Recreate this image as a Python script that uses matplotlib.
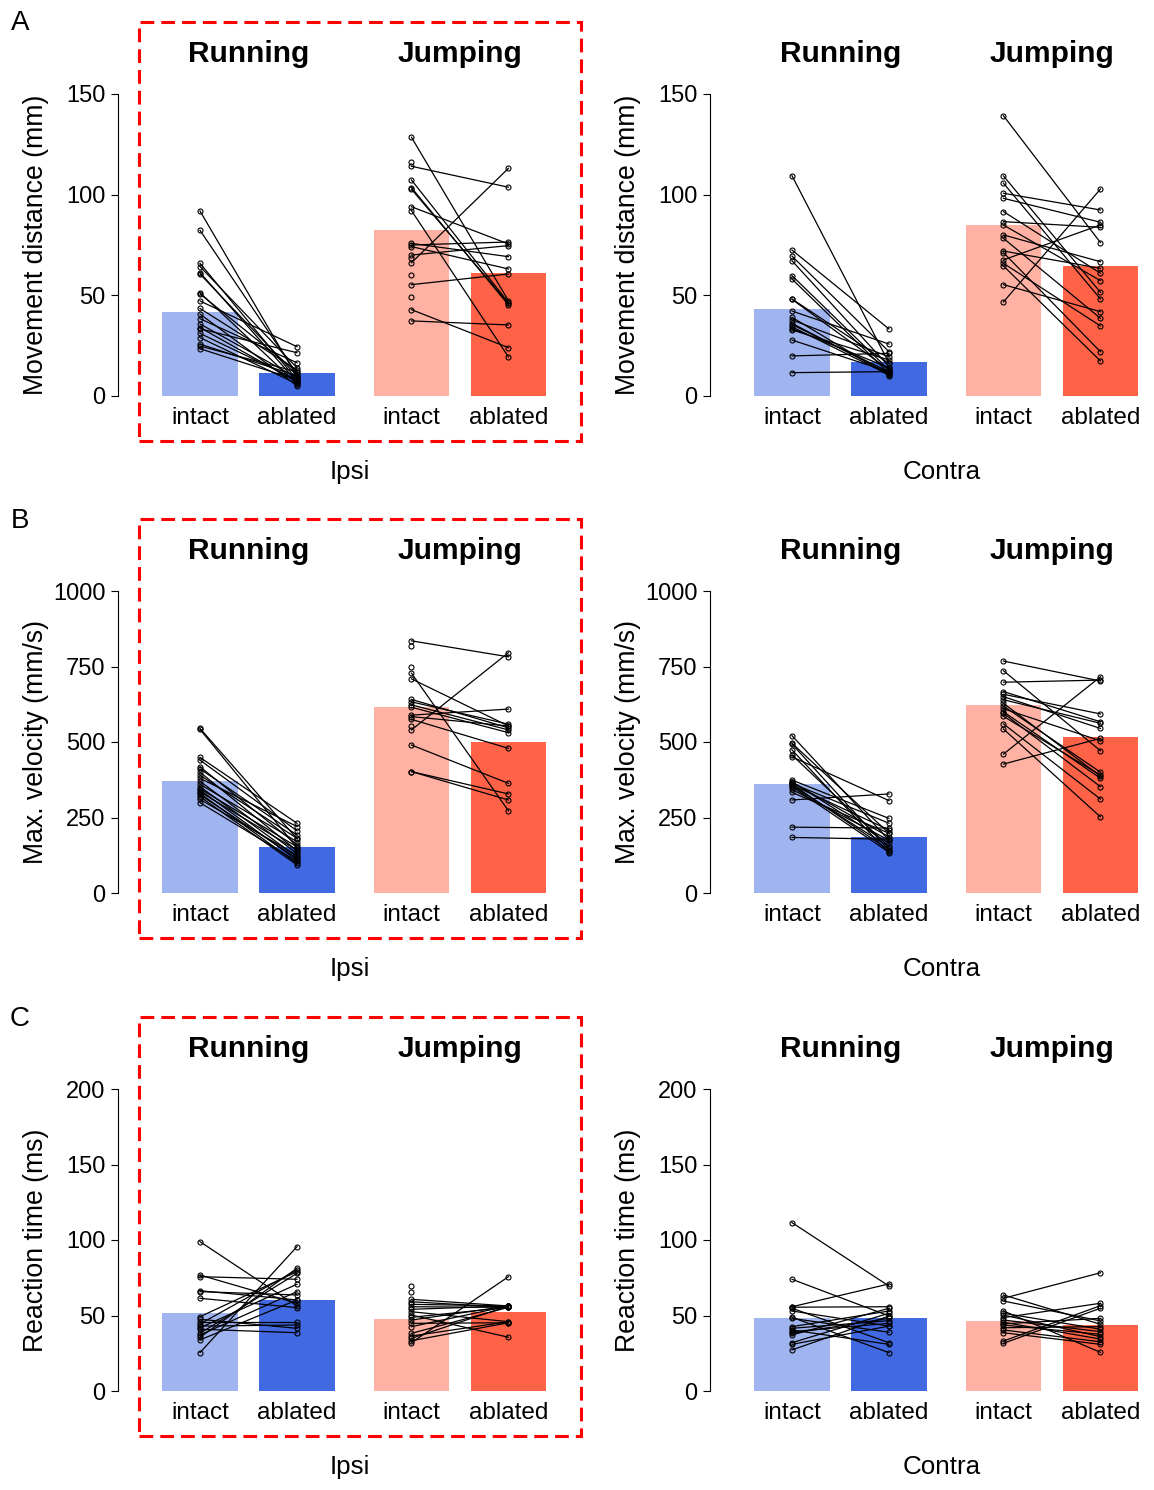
import numpy as np
import matplotlib.pyplot as plt
from matplotlib.patches import Rectangle

plt.rcParams['font.family'] = ['Liberation Sans', 'DejaVu Sans']

nan = np.nan
W, H = 1154, 1490

tick_names = ['intact', 'ablated', 'intact', 'ablated']
bar_colors = ['#a0b4f0', '#4169e1', '#ffb1a3', '#ff6347']

# ---- A: movement distance (mm) ----
a_bars_ipsi = [41.7, 11.4, 82.5, 61.1]
a_bars_contra = [43.2, 16.9, 84.9, 64.6]
a_ipsi_run_pre = [91.9, 82.3, 65.9, 64.3, 61.3, 60.6, 51.3, 50.7, 47.2, 43.5,
                  40.7, 38.4, 35.8, 34.0, 33.4, 31.1, 29.0, 25.8, 24.8, 23.5]
a_ipsi_run_post = [9.6, 11.0, 8.0, 14.0, 7.0, 10.0, 6.0, 12.0, 24.5, 13.0,
                   5.1, 16.5, 9.0, 7.0, 21.5, 8.0, 6.0, 10.0, 12.0, 8.0]
a_ipsi_jump_pre = [128.5, 116.2, 114.1, 107.3, 103.5, 102.7, 94.0, 92.1, 75.8, 75.0,
                   74.2, 70.0, 68.4, 66.2, 60.0, 55.3, 49.2, 42.9, 37.3]
a_ipsi_jump_post = [47.3, nan, 103.7, 46.4, 45.2, 46.0, 75.5, 19.4, 69.2, 76.5,
                    63.1, 74.7, nan, 113.1, nan, 60.6, nan, 24.0, 35.3]
a_contra_run_pre = [109.4, 72.5, 69.5, 67.2, 59.8, 58.1, 48.2, 48.0, 42.2, 39.1,
                    37.8, 36.1, 35.5, 34.4, 33.5, 32.8, 27.8, 19.9, 11.6]
a_contra_run_post = [16.4, 33.3, 22.0, 14.6, 12.9, 11.3, 16.2, 13.0, 25.8, 10.1,
                     19.5, 11.0, 12.0, 10.5, 14.0, 17.9, 12.0, 21.2, 12.1]
a_contra_jump_pre = [139.2, 109.3, 105.7, 100.7, 98.2, 91.6, 86.6, 84.9, 80.0, 78.3,
                     72.0, 71.2, 67.6, 65.9, 64.6, 55.3, 46.7]
a_contra_jump_post = [76.2, 51.5, 48.2, 92.4, 86.3, 61.0, 83.8, 57.3, 66.7, 38.6,
                      63.4, 22.0, 85.0, 34.8, 17.4, 41.9, 102.8]

# ---- B: max. velocity (mm/s) ----
b_bars_ipsi = [371, 152, 615, 500]
b_bars_contra = [361, 185, 623, 516]
b_ipsi_run_pre = [545, 542, 449, 440, 418, 411, 400, 390, 380, 370,
                  360, 352, 345, 341, 335, 330, 325, 319, 310, 299]
b_ipsi_run_post = [180, 150, 231, 206, 160, 192, 140, 181, 220, 131,
                   170, 120, 153, 109, 142, 98, 115, 93, 125, 105]
b_ipsi_jump_pre = [835, 818, 749, 728, 709, 641, 633, 623, 615, 589,
                   584, 575, 553, 540, 490, 402, 402]
b_ipsi_jump_post = [782, nan, nan, 272, 553, 547, 559, 540, 531, 609,
                    553, 479, nan, 796, 363, 328, 308]
b_contra_run_pre = [521, 496, 493, 474, 457, 451, 374, 369, 366, 363,
                    360, 358, 355, 352, 343, 333, 308, 218, 184]
b_contra_run_post = [175, 198, 142, 131, 153, 306, 247, 164, 186, 231,
                     142, 209, 153, 135, 175, 198, 328, 215, 178]
b_contra_jump_pre = [768, 736, 698, 667, 658, 650, 640, 628, 619, 610,
                     600, 595, 585, 560, 543, 460, 427]
b_contra_jump_post = [702, 471, 705, 567, 593, 545, 562, 387, 400, 504,
                      380, 352, 390, 311, 252, 716, 512]

# ---- C: reaction time (ms) ----
c_bars_ipsi = [51.9, 60.3, 47.7, 52.3]
c_bars_contra = [48.6, 48.6, 46.4, 43.7]
c_ipsi_run_pre = [98.9, 76.8, 75.7, 66.4, 65.8, 61.4, 49.2, 47.5, 45.9, 44.4,
                  43.0, 41.9, 40.9, 38.2, 37.1, 35.6, 33.8, 25.4]
c_ipsi_run_post = [56.3, 58.1, 74.0, 60.3, 63.6, 55.2, 79.0, 41.5, 45.9, 80.1,
                   43.7, 70.7, 38.6, 77.9, 65.8, 81.3, 60.3, 95.6]
c_ipsi_jump_pre = [69.7, 65.8, 60.7, 59.1, 57.4, 55.8, 54.1, 52.5, 50.3, 48.8,
                   47.0, 44.8, 42.6, 38.2, 36.4, 34.9, 33.3, 32.0]
c_ipsi_jump_post = [nan, nan, 56.3, 55.4, 56.3, 55.4, 56.3, 45.9, 35.6, 55.4,
                    56.3, 45.2, 56.3, 55.4, 45.9, 56.3, 45.2, 75.7]
c_contra_run_pre = [111.5, 74.0, 55.8, 55.5, 54.8, 53.0, 48.8, 48.1, 42.6, 41.5,
                    40.4, 39.3, 38.2, 37.1, 32.0, 30.9, 27.2]
c_contra_run_post = [69.5, 49.7, 70.9, 55.8, 32.0, 43.0, 25.4, 38.9, 53.0, 46.6,
                     30.9, 44.8, 48.1, 54.8, 51.5, 43.0, 49.7]
c_contra_jump_pre = [63.6, 61.4, 59.6, 53.0, 51.5, 50.3, 48.6, 47.0, 45.5, 44.5,
                     43.7, 41.9, 40.4, 38.6, 33.1, 31.6]
c_contra_jump_post = [44.2, 78.3, 46.4, 25.6, 40.9, 36.0, 58.1, 39.3, 34.4, 48.1,
                      37.5, 42.6, 32.6, 30.9, 56.5, 54.8]

xpos = np.array([0, 1, 2.18, 3.18])


def paired(ax, x0, x1, pre, post):
    pre = np.asarray(pre, float)
    post = np.asarray(post, float)
    for a, b in zip(pre, post):
        if not (np.isnan(a) or np.isnan(b)):
            ax.plot([x0, x1], [a, b], color='k', lw=0.9, zorder=3)
    ok = ~np.isnan(pre)
    ax.plot(np.full(ok.sum(), x0), pre[ok], 'o', ms=3.6, mfc='none', mec='k',
            mew=0.8, zorder=4)
    ok = ~np.isnan(post)
    ax.plot(np.full(ok.sum(), x1), post[ok], 'o', ms=3.6, mfc='none', mec='k',
            mew=0.8, zorder=4)


def draw_panel(ax, bars, run_pre, run_post, jump_pre, jump_post,
               ymax, yticks, ylabel, side):
    ax.bar(xpos, bars, width=0.78, color=bar_colors, zorder=1)
    paired(ax, xpos[0], xpos[1], run_pre, run_post)
    paired(ax, xpos[2], xpos[3], jump_pre, jump_post)
    ax.set_xlim(-0.845, 3.938)
    ax.set_ylim(0, ymax)
    ax.set_yticks(yticks)
    ax.set_xticks(xpos)
    ax.set_xticklabels(tick_names)
    for s in ['top', 'right', 'bottom']:
        ax.spines[s].set_visible(False)
    ax.spines['left'].set_linewidth(0.8)
    ax.tick_params(axis='y', labelsize=17, length=5, width=0.8, pad=4)
    ax.tick_params(axis='x', labelsize=17.5, length=0, pad=8)
    ax.text(-0.177, 0.5, ylabel, transform=ax.transAxes, rotation=90,
            ha='center', va='center', fontsize=19.2)
    ax.text(0.5, -0.252, side, transform=ax.transAxes,
            ha='center', va='center', fontsize=18.7)
    tr = ax.get_xaxis_transform()
    ax.text((xpos[0] + xpos[1]) / 2, 1.131, 'Running', transform=tr,
            ha='center', va='center', fontsize=21.5, fontweight='bold')
    ax.text((xpos[2] + xpos[3]) / 2, 1.131, 'Jumping', transform=tr,
            ha='center', va='center', fontsize=21.5, fontweight='bold')


fig = plt.figure(figsize=(W / 100, H / 100), dpi=100)

rows = [
    ('A', 396, 150, [0, 50, 100, 150], 'Movement distance (mm)',
     (a_bars_ipsi, a_ipsi_run_pre, a_ipsi_run_post, a_ipsi_jump_pre, a_ipsi_jump_post),
     (a_bars_contra, a_contra_run_pre, a_contra_run_post, a_contra_jump_pre, a_contra_jump_post)),
    ('B', 893, 1000, [0, 250, 500, 750, 1000], 'Max. velocity (mm/s)',
     (b_bars_ipsi, b_ipsi_run_pre, b_ipsi_run_post, b_ipsi_jump_pre, b_ipsi_jump_post),
     (b_bars_contra, b_contra_run_pre, b_contra_run_post, b_contra_jump_pre, b_contra_jump_post)),
    ('C', 1391, 200, [0, 50, 100, 150, 200], 'Reaction time (ms)',
     (c_bars_ipsi, c_ipsi_run_pre, c_ipsi_run_post, c_ipsi_jump_pre, c_ipsi_jump_post),
     (c_bars_contra, c_contra_run_pre, c_contra_run_post, c_contra_jump_pre, c_contra_jump_post)),
]

for letter, ybot, ymax, yticks, ylabel, ipsi, contra in rows:
    for left, side, d in [(118, 'Ipsi', ipsi), (710, 'Contra', contra)]:
        ax = fig.add_axes([left / W, 1 - ybot / H, 464 / W, 302 / H])
        draw_panel(ax, *d, ymax, yticks, ylabel, side)
    top = ybot - 374
    fig.text(20 / W, 1 - (top + 1.5) / H, letter, ha='center', va='center', fontsize=20)
    # red dashed box round the ipsi panel
    box = Rectangle((139 / W, 1 - (top + 419) / H), 442 / W, 419 / H,
                    transform=fig.transFigure, fill=False, ec='red', lw=2.2,
                    ls=(0, (4.5, 2.3)), zorder=10)
    fig.add_artist(box)

fig.savefig('out.png', dpi=100)
